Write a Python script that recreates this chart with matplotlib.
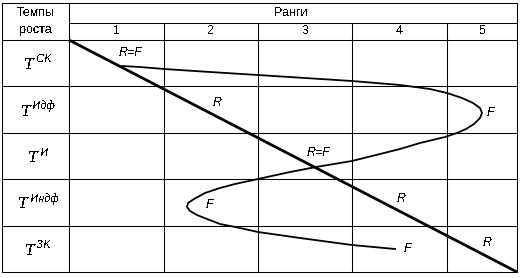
import matplotlib
matplotlib.use("Agg")
import matplotlib.pyplot as plt

plt.rcParams['text.antialiased'] = False

# ---- data -------------------------------------------------------------
header_left = ["Темпы", "роста"]
header_top = "Ранги"
ranks = ["1", "2", "3", "4", "5"]
row_sup = ["СК", "Идф", "И", "Индф", "ЗК"]

# diagonal R line (table coordinates, pixels of reference)
diag_x = [69, 517]
diag_y = [40, 272]

# F curve
curve_x = [122, 140, 164, 210, 258, 305, 352, 400, 430, 447, 462, 473, 480, 482,
           480, 474, 466, 457, 445, 420, 400, 376, 352, 316, 290, 258, 235, 220,
           205, 194, 188, 187, 190, 197, 207, 220, 240, 258, 300, 352, 395]
curve_y = [66, 67, 69, 72, 75, 78, 81, 85, 89, 93, 98, 103, 108, 113,
           118, 124, 129, 133, 137, 143, 149, 155, 161, 167, 172, 179, 184, 188,
           193, 199, 203, 207, 211, 215, 219, 224, 228, 232, 238, 245, 249]

labels = [("R=F", 131, 53), ("R", 217, 103), ("F", 490, 113), ("R=F", 319, 153),
          ("F", 209, 205), ("R", 401, 199), ("F", 407, 249), ("R", 487, 243)]

# ---- layout ------------------------------------------------------------
W, H = 522, 278
col_edges = [2, 69, 164, 258, 352, 447, 517]
row_edges = [40, 86, 133, 179, 226, 272]
top, mid = 3, 23

fig = plt.figure(figsize=(W / 100, H / 100), dpi=100)
ax = fig.add_axes([0, 0, 1, 1])
ax.set_xlim(0, W)
ax.set_ylim(H, 0)
ax.axis('off')

lw = 0.75
k = 'black'
# outer border
ax.plot([col_edges[0], col_edges[-1], col_edges[-1], col_edges[0], col_edges[0]],
        [top, top, row_edges[-1], row_edges[-1], top], color=k, lw=lw)
# first column vertical
ax.plot([col_edges[1]] * 2, [top, row_edges[-1]], color=k, lw=lw)
# inner column verticals
for x in col_edges[2:-1]:
    ax.plot([x, x], [mid, row_edges[-1]], color=k, lw=lw)
# header middle line
ax.plot([col_edges[1], col_edges[-1]], [mid, mid], color=k, lw=lw)
# row lines
for y in row_edges[:-1]:
    ax.plot([col_edges[0], col_edges[-1]], [y, y], color=k, lw=lw)

# header texts
sans = 'Liberation Sans'
hs = 9
ax.text(36, 12.5, header_left[0], ha='center', va='center', fontsize=hs, family=sans)
ax.text(36, 30.5, header_left[1], ha='center', va='center', fontsize=hs, family=sans)
ax.text(291, 12.5, header_top, ha='center', va='center', fontsize=hs, family=sans)
for i, r in enumerate(ranks):
    cx = (col_edges[i + 1] + col_edges[i + 2]) / 2
    ax.text(cx, 31, r, ha='center', va='center', fontsize=hs, family=sans)

# row labels: T with a superscript, centred in the first column
fig.canvas.draw()
renderer = fig.canvas.get_renderer()
serif = 'Liberation Serif'
for i, s in enumerate(row_sup):
    cy = (row_edges[i] + row_edges[i + 1]) / 2
    tT = ax.text(0, cy + 6, 'T', ha='left', va='baseline', fontsize=12.5,
                 family=serif, style='italic')
    tS = ax.text(0, cy - 0.5, s, ha='left', va='baseline', fontsize=8.5,
                 family=serif, style='italic')
    wT = tT.get_window_extent(renderer).width
    wS = tS.get_window_extent(renderer).width
    gap = 2.5
    x0 = 38 - (wT + gap + wS) / 2
    tT.set_x(x0)
    tS.set_x(x0 + wT + gap)

# lines
ax.plot(diag_x, diag_y, color=k, lw=2.0, solid_capstyle='butt')
ax.plot(curve_x, curve_y, color=k, lw=1.3)

for t, x, y in labels:
    ax.text(x, y, t, ha='center', va='center', fontsize=9, family=sans,
            style='italic')

fig.savefig('out.png', dpi=100)
